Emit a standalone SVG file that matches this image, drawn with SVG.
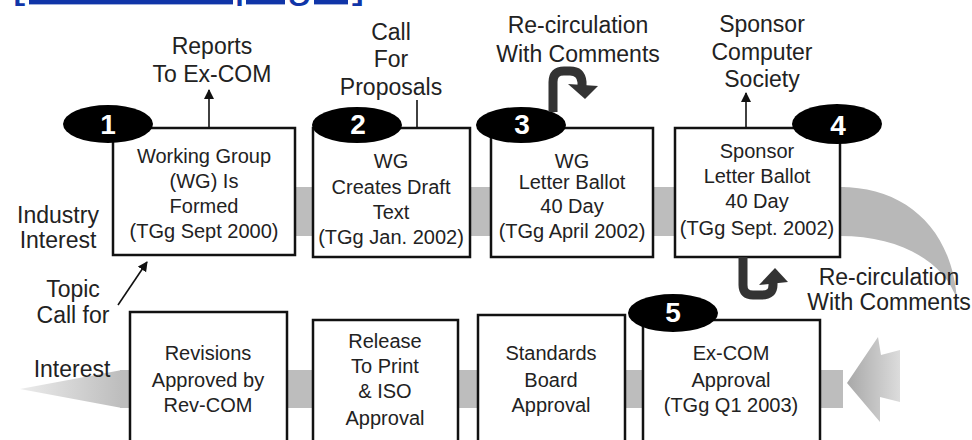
<svg xmlns="http://www.w3.org/2000/svg" width="972" height="440" viewBox="0 0 972 440">
<defs>
<style>
.t{font-family:"Liberation Sans",Arial,sans-serif;font-size:20px;fill:#222;text-anchor:middle}
.l{font-family:"Liberation Sans",Arial,sans-serif;font-size:23px;fill:#222;text-anchor:middle}
.n{font-family:"Liberation Sans",Arial,sans-serif;font-size:28px;font-weight:bold;fill:#fff;text-anchor:middle}
.box{fill:#fff;stroke:#111;stroke-width:2.5}
.ell{fill:#000}
.band{fill:#bdbdbd}
.thin{stroke:#111;stroke-width:1.6;fill:none;marker-end:url(#ah)}
.hook{stroke:#333;stroke-width:9;fill:none}
.hookhead{fill:#333}
</style>
<marker id="ah" markerWidth="10" markerHeight="12" refX="9" refY="5" orient="auto" markerUnits="userSpaceOnUse">
<path d="M0,0 L10,5 L0,10 z" fill="#111"/>
</marker>
<linearGradient id="gl" x1="0" y1="0" x2="1" y2="0">
<stop offset="0" stop-color="#ececec"/>
<stop offset="1" stop-color="#bdbdbd"/>
</linearGradient>
<linearGradient id="gr" x1="0" y1="0" x2="1" y2="0">
<stop offset="0" stop-color="#a8a8a8"/>
<stop offset="1" stop-color="#dcdcdc"/>
</linearGradient>
</defs>
<rect width="972" height="440" fill="#fff"/>

<text x="12" y="-3" font-family="Liberation Sans, Arial, sans-serif" font-size="44" fill="#1035a8" text-decoration="underline" textLength="353" lengthAdjust="spacingAndGlyphs">[ Previous page ]</text>

<g id="connectors">
<rect class="band" x="290" y="187" width="555" height="49"/>
<path d="M840,187 C905,187 952,228 957,300 C945,262 900,236 840,236 Z" fill="#b8b8b8"/>
<rect class="band" x="120" y="370" width="723" height="38"/>
<path d="M20,389 L122,370 L122,408 Z" fill="url(#gl)"/>
<path d="M847,383 L878,337 L881,355 L900,350 L900,402 L880,397 L880,422 Z" fill="url(#gr)"/>
<line class="thin" x1="209" y1="143" x2="209" y2="90"/>
<line class="thin" x1="417" y1="100" x2="417" y2="153"/>
<line class="thin" x1="746" y1="128" x2="746" y2="93"/>
<line class="thin" x1="118" y1="305" x2="147" y2="262"/>
</g>

<g id="n1">
<rect class="box" x="113" y="128" width="182" height="127"/>
<ellipse class="ell" cx="108" cy="124" rx="45" ry="19"/>
<text class="n" x="108" y="134">1</text>
<text class="t" x="204" y="163">Working Group</text>
<text class="t" x="204" y="188">(WG) Is</text>
<text class="t" x="204" y="213">Formed</text>
<text class="t" x="204" y="238">(TGg Sept 2000)</text>
</g>

<g id="n2">
<rect class="box" x="313" y="128" width="157" height="129"/>
<ellipse class="ell" cx="357" cy="125" rx="45" ry="18"/>
<text class="n" x="358" y="134">2</text>
<text class="t" x="391" y="168">WG</text>
<text class="t" x="391" y="194">Creates Draft</text>
<text class="t" x="391" y="219">Text</text>
<text class="t" x="391" y="244">(TGg Jan. 2002)</text>
</g>

<g id="n3">
<rect class="box" x="491" y="128" width="162" height="129"/>
<ellipse class="ell" cx="521" cy="125" rx="45" ry="18"/>
<text class="n" x="522" y="134">3</text>
<text class="t" x="572" y="168">WG</text>
<text class="t" x="572" y="189">Letter Ballot</text>
<text class="t" x="572" y="213">40 Day</text>
<text class="t" x="572" y="238">(TGg April 2002)</text>
</g>

<g id="n4">
<rect class="box" x="675" y="128" width="165" height="129"/>
<ellipse class="ell" cx="837" cy="124" rx="45" ry="20"/>
<text class="n" x="838" y="135">4</text>
<text class="t" x="757" y="158">Sponsor</text>
<text class="t" x="757" y="183">Letter Ballot</text>
<text class="t" x="757" y="208">40 Day</text>
<text class="t" x="757" y="235">(TGg Sept. 2002)</text>
</g>

<g id="n5">
<rect class="box" x="643" y="320" width="177" height="130"/>
<ellipse class="ell" cx="673" cy="313" rx="45" ry="19"/>
<text class="n" x="673" y="322">5</text>
<text class="t" x="731" y="360">Ex-COM</text>
<text class="t" x="731" y="387">Approval</text>
<text class="t" x="731" y="412">(TGg Q1 2003)</text>
</g>

<g id="n6">
<rect class="box" x="478" y="315" width="147" height="135"/>
<text class="t" x="551" y="360">Standards</text>
<text class="t" x="551" y="387">Board</text>
<text class="t" x="551" y="412">Approval</text>
</g>

<g id="n7">
<rect class="box" x="313" y="320" width="145" height="130"/>
<text class="t" x="385" y="348">Release</text>
<text class="t" x="385" y="373">To Print</text>
<text class="t" x="385" y="398">&amp; ISO</text>
<text class="t" x="385" y="425">Approval</text>
</g>

<g id="n8">
<rect class="box" x="130" y="312" width="157" height="138"/>
<text class="t" x="208" y="360">Revisions</text>
<text class="t" x="208" y="387">Approved by</text>
<text class="t" x="208" y="412">Rev-COM</text>
</g>

<g id="hooks">
<path class="hook" d="M553,112 V82 Q553,71 564,71 H570 Q581,71 582,82 V86"/>
<path class="hookhead" d="M568,84 L598,86 L585,99 Z"/>
<path class="hook" d="M743,257 V285 Q743,295 753,295 H762 Q773,295 773,285 V283"/>
<path class="hookhead" d="M759,285 L788,282 L775,268 Z"/>
</g>

<g id="labels">
<text class="l" x="212" y="54">Reports</text>
<text class="l" x="212" y="82">To Ex-COM</text>
<text class="l" x="391" y="40">Call</text>
<text class="l" x="391" y="67">For</text>
<text class="l" x="391" y="95">Proposals</text>
<text class="l" x="578" y="33">Re-circulation</text>
<text class="l" x="578" y="62">With Comments</text>
<text class="l" x="762" y="32">Sponsor</text>
<text class="l" x="762" y="60">Computer</text>
<text class="l" x="762" y="87">Society</text>
<text class="l" x="58" y="223">Industry</text>
<text class="l" x="58" y="248">Interest</text>
<text class="l" x="73" y="297">Topic</text>
<text class="l" x="73" y="323">Call for</text>
<text class="l" x="72" y="377">Interest</text>
<text class="l" x="889" y="285">Re-circulation</text>
<text class="l" x="889" y="310">With Comments</text>
</g>
</svg>
